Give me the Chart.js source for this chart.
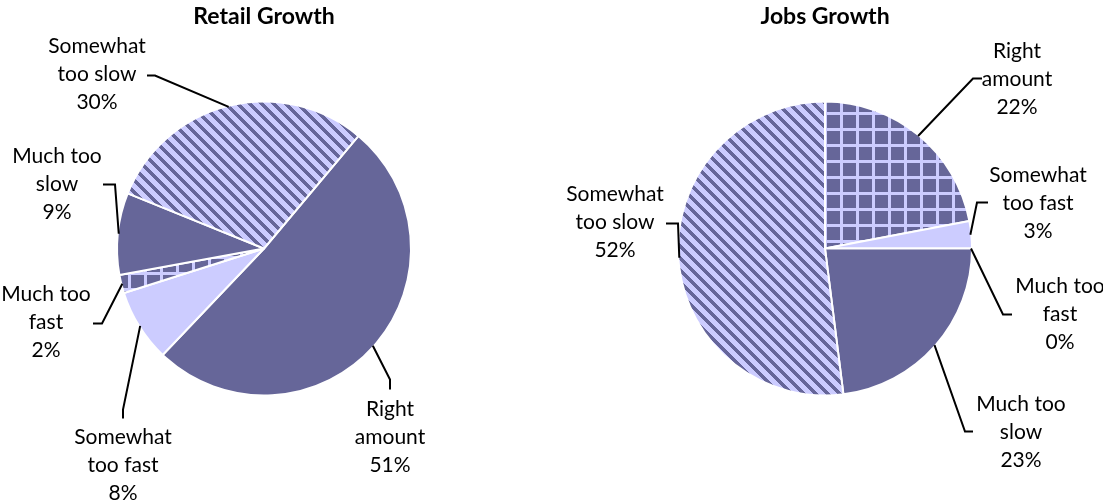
<!DOCTYPE html>
<html>
<head>
<meta charset="utf-8">
<title>Retail and Jobs Growth</title>
<script src="https://cdn.jsdelivr.net/npm/chart.js@4.4.1/dist/chart.umd.min.js"></script>
<style>
  html, body { margin: 0; padding: 0; background: #fff; }
  .wrap { display: flex; width: 1103px; height: 502px; }
  .wrap canvas { display: block; }
</style>
</head>
<body>
<div class="wrap">
  <canvas id="retailChart" width="552" height="502"></canvas>
  <canvas id="jobsChart" width="551" height="502"></canvas>
</div>
<script>
// Survey answers (same category order for both pies)
const categories = [
  ['Right', 'amount'],
  ['Somewhat', 'too fast'],
  ['Much too', 'fast'],
  ['Much too', 'slow'],
  ['Somewhat', 'too slow']
];
const retailValues = [51, 8, 2, 9, 30];
const jobsValues = [22, 3, 0, 23, 52];

const DARK = '#666699';
const LIGHT = '#ccccff';
const FONT = 'Lato, "Open Sans", sans-serif';

// diagonal "\" stripes, light ground with dark bands
function stripePattern() {
  const n = 12;
  const tile = document.createElement('canvas');
  tile.width = n; tile.height = n;
  const c = tile.getContext('2d');
  c.fillStyle = LIGHT;
  c.fillRect(0, 0, n, n);
  c.fillStyle = DARK;
  for (let y = 0; y < n; y++) {
    for (let x = 0; x < n; x++) {
      if (((x - y) % n + n) % n < 5) c.fillRect(x, y, 1, 1);
    }
  }
  return c.createPattern(tile, 'repeat');
}

// square grid, dark ground with light lines
function gridPattern() {
  const tile = document.createElement('canvas');
  tile.width = 16; tile.height = 16;
  const c = tile.getContext('2d');
  c.fillStyle = DARK;
  c.fillRect(0, 0, 16, 16);
  c.fillStyle = LIGHT;
  c.fillRect(0, 0, 3, 16);
  c.fillRect(0, 0, 16, 3);
  return c.createPattern(tile, 'repeat');
}

const stripes = stripePattern();
const grid = gridPattern();

// leader lines + multi-line labels, positions relative to pie centre
const calloutPlugin = {
  id: 'callouts',
  afterDatasetsDraw(chart, args, opts) {
    const ctx = chart.ctx;
    const meta = chart.getDatasetMeta(0);
    const values = chart.data.datasets[0].data;
    ctx.save();
    meta.data.forEach((arc, i) => {
      const p = opts.positions[i];
      const {x, y, startAngle, endAngle, outerRadius} =
        arc.getProps(['x', 'y', 'startAngle', 'endAngle', 'outerRadius'], true);
      const mid = (startAngle + endAngle) / 2;
      const r = outerRadius - 1;
      ctx.beginPath();
      ctx.moveTo(x + Math.cos(mid) * r, y + Math.sin(mid) * r);
      ctx.lineTo(x + p.elbow[0], y + p.elbow[1]);
      ctx.lineTo(x + p.end[0], y + p.end[1]);
      ctx.lineWidth = 2;
      ctx.lineJoin = 'miter';
      ctx.strokeStyle = '#000';
      ctx.stroke();

      const lines = [...chart.data.labels[i], values[i] + '%'];
      ctx.font = '21px ' + FONT;
      ctx.fillStyle = '#000';
      ctx.textAlign = 'center';
      ctx.textBaseline = 'middle';
      lines.forEach((t, k) => ctx.fillText(t, x + p.text[0], y + p.text[1] + k * 28));
    });
    ctx.restore();
  }
};

function makePie(id, title, values, colors, rotation, padRight, positions) {
  return new Chart(document.getElementById(id), {
    type: 'pie',
    data: {
      labels: categories,
      datasets: [{
        data: values,
        backgroundColor: colors,
        borderColor: '#fff',
        borderWidth: 2,
        radius: 147,
        hoverOffset: 0
      }]
    },
    options: {
      responsive: false,
      animation: false,
      devicePixelRatio: 1,
      rotation: rotation,
      layout: { padding: { top: 0, left: 0, right: padRight, bottom: 35.6 } },
      plugins: {
        legend: { display: false },
        tooltip: { enabled: false },
        title: {
          display: true,
          text: title,
          color: '#000',
          font: { family: FONT, size: 23, weight: 'bold', lineHeight: 1.2 },
          padding: { top: 3, bottom: 0 }
        },
        callouts: { positions: positions }
      }
    },
    plugins: [calloutPlugin]
  });
}

makePie('retailChart', 'Retail Growth', retailValues,
  [DARK, LIGHT, grid, DARK, stripes], 40, 24, [
    { elbow: [126, 131], end: [126, 141], text: [126, 161] },
    { elbow: [-141, 161], end: [-141, 170], text: [-141, 189] },
    { elbow: [-162, 75], end: [-171, 75], text: [-218, 46] },
    { elbow: [-149, -64], end: [-161, -64], text: [-207, -92] },
    { elbow: [-109, -173], end: [-117, -173], text: [-167, -202] }
  ]);

makePie('jobsChart', 'Jobs Growth', jobsValues,
  [grid, LIGHT, grid, DARK, stripes], 0, 5, [
    { elbow: [148, -170], end: [157, -170], text: [192, -197] },
    { elbow: [152, -46], end: [163, -46], text: [213, -73] },
    { elbow: [178, 66], end: [187, 66], text: [235, 38] },
    { elbow: [140, 183], end: [148, 183], text: [196, 156] },
    { elbow: [-147, -25], end: [-159, -25], text: [-210, -54] }
  ]);
</script>
</body>
</html>
